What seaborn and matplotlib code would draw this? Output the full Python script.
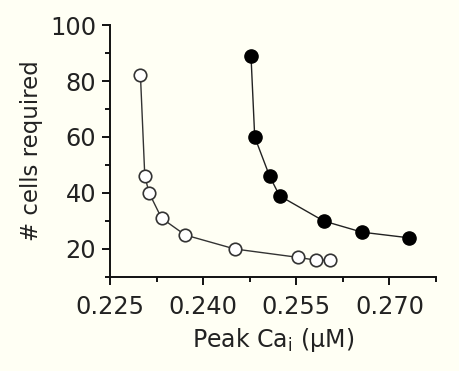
import matplotlib
matplotlib.use("Agg")
import matplotlib.pyplot as plt
from matplotlib.ticker import MultipleLocator
import seaborn as sns
import pandas as pd

# Peak intracellular Ca (uM) vs number of cells required
open_peak_ca = [0.2299, 0.2306, 0.2313, 0.2333, 0.2371, 0.2451, 0.2553, 0.2582, 0.2604]
open_cells = [82, 46, 40, 31, 25, 20, 17, 16, 16]

filled_peak_ca = [0.2477, 0.2483, 0.2507, 0.2523, 0.2594, 0.2656, 0.2731]
filled_cells = [89, 60, 46, 39, 30, 26, 24]

x_ticks = [0.225, 0.240, 0.255, 0.270]
x_tick_labels = ["0.225", "0.240", "0.255", "0.270"]
y_ticks = [20, 40, 60, 80, 100]

sns.set_theme(style="ticks")
plt.rcParams["font.family"] = ["DejaVu Sans"]
plt.rcParams["mathtext.fontset"] = "dejavusans"

bg = "#fffff4"
fig = plt.figure(figsize=(4.59, 3.71), dpi=100, facecolor=bg)
ax = fig.add_axes([0.2397, 0.2534, 0.7103, 0.6792])
ax.set_facecolor(bg)

df_open = pd.DataFrame({"ca": open_peak_ca, "cells": open_cells})
df_filled = pd.DataFrame({"ca": filled_peak_ca, "cells": filled_cells})

sns.lineplot(data=df_open, x="ca", y="cells", ax=ax, sort=False,
             color="#333333", linewidth=1.0, marker="o", markersize=9,
             markerfacecolor="white", markeredgecolor="#333333",
             markeredgewidth=1.2, zorder=3)
sns.lineplot(data=df_filled, x="ca", y="cells", ax=ax, sort=False,
             color="#222222", linewidth=1.0, marker="o", markersize=9.5,
             markerfacecolor="black", markeredgecolor="black",
             markeredgewidth=1.0, zorder=3)

ax.set_xlim(0.225, 0.2775)
ax.set_ylim(10, 100)
ax.set_xticks(x_ticks)
ax.set_xticklabels(x_tick_labels)
ax.set_yticks(y_ticks)
ax.xaxis.set_minor_locator(MultipleLocator(0.0075))
ax.yaxis.set_minor_locator(MultipleLocator(10))

for side in ("top", "right"):
    ax.spines[side].set_visible(False)
for side in ("left", "bottom"):
    ax.spines[side].set_linewidth(1.4)
    ax.spines[side].set_color("#111111")

ax.tick_params(which="major", direction="out", length=6, width=1.4,
               color="#111111", labelsize=17.3, labelcolor="#222222", pad=4)
ax.tick_params(axis="x", which="major", pad=7)
ax.tick_params(which="minor", direction="out", length=3.8, width=1.4,
               color="#111111")

ax.set_xlabel(r"Peak Ca$_\mathregular{i}$ (μM)", fontsize=17,
              color="#222222", labelpad=5)
ax.set_ylabel("# cells required", fontsize=16.5, color="#222222", labelpad=5)

fig.savefig("out.png", dpi=100, facecolor=bg)
